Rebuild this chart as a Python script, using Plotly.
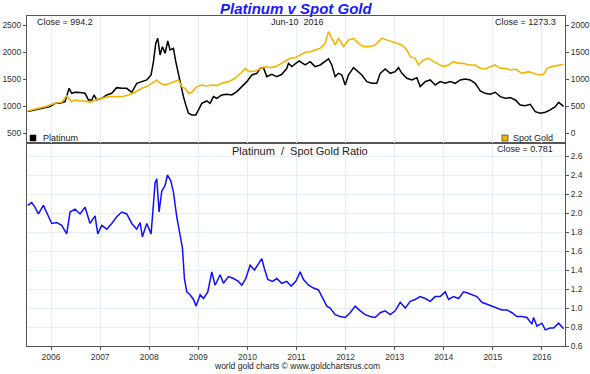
import plotly.graph_objects as go

# ---------------- data ----------------
# time as decimal years
plat_t = [2005.524, 2005.674, 2005.810, 2005.980, 2006.082, 2006.183, 2006.285, 2006.367, 2006.421, 2006.489,
          2006.591, 2006.693, 2006.761, 2006.829, 2006.876, 2006.931, 2007.033, 2007.135, 2007.236, 2007.338,
          2007.440, 2007.542, 2007.644, 2007.746, 2007.848, 2007.950, 2008.038, 2008.086, 2008.133, 2008.174,
          2008.221, 2008.269, 2008.323, 2008.378, 2008.425, 2008.493, 2008.541, 2008.595, 2008.649, 2008.697,
          2008.745, 2008.799, 2008.867, 2008.948, 2009.003, 2009.071, 2009.173, 2009.240, 2009.308, 2009.376,
          2009.478, 2009.580, 2009.682, 2009.784, 2009.886, 2009.988, 2010.090, 2010.192, 2010.260, 2010.327,
          2010.395, 2010.497, 2010.599, 2010.701, 2010.803, 2010.837, 2010.905, 2011.007, 2011.054,
          2011.075, 2011.177, 2011.279, 2011.380, 2011.482, 2011.584, 2011.652, 2011.720, 2011.788, 2011.856,
          2011.924, 2011.992, 2012.060, 2012.162, 2012.264, 2012.332, 2012.433, 2012.535, 2012.637, 2012.705,
          2012.807, 2012.909, 2013.011, 2013.079, 2013.147, 2013.249, 2013.351, 2013.452, 2013.520, 2013.622,
          2013.724, 2013.826, 2013.928, 2014.030, 2014.132, 2014.234, 2014.336, 2014.438, 2014.539, 2014.641,
          2014.743, 2014.845, 2014.947, 2015.049, 2015.151, 2015.253, 2015.355, 2015.457, 2015.558, 2015.660,
          2015.762, 2015.864, 2015.966, 2016.068, 2016.170, 2016.272, 2016.340, 2016.408, 2016.442]
plat_v = [896, 927, 957, 988, 1050, 1050, 1081, 1328, 1235, 1254,
          1248, 1235, 1112, 1112, 1204, 1112, 1143, 1204, 1235, 1340,
          1328, 1328, 1254, 1420, 1451, 1482, 1575, 1821, 2161, 2253,
          1945, 2099, 1976, 2204, 2037, 2068, 1821, 1575, 1359, 1174,
          1019, 865, 834, 834, 927, 1050, 1093, 1050, 1174, 1143,
          1204, 1217, 1204, 1266, 1359, 1451, 1575, 1605, 1698, 1710,
          1544, 1587, 1544, 1587, 1698, 1790, 1729, 1790, 1834,
          1821, 1760, 1821, 1729, 1760, 1821, 1871, 1760, 1544, 1605,
          1575, 1390, 1575, 1710, 1636, 1575, 1451, 1420, 1420, 1605,
          1686, 1605, 1636, 1710, 1605, 1513, 1482, 1525, 1359, 1451,
          1482, 1390, 1451, 1420, 1451, 1420, 1482, 1501, 1482, 1420,
          1278, 1235, 1217, 1254, 1174, 1143, 1155, 1112, 1019, 1007,
          1031, 896, 865, 884, 927, 988, 1068, 1007, 994.2]

gold_t = [2005.524, 2005.674, 2005.878, 2006.082, 2006.217, 2006.319, 2006.421, 2006.489, 2006.591, 2006.693,
          2006.795, 2006.897, 2007.033, 2007.168, 2007.304, 2007.440, 2007.576, 2007.712, 2007.848, 2007.950,
          2008.052, 2008.154, 2008.221, 2008.323, 2008.425, 2008.527, 2008.595, 2008.663, 2008.731, 2008.799,
          2008.867, 2008.969, 2009.071, 2009.173, 2009.274, 2009.376, 2009.478, 2009.614, 2009.750, 2009.886,
          2009.954, 2010.035, 2010.158, 2010.260, 2010.361, 2010.463, 2010.565, 2010.667, 2010.769, 2010.871,
          2010.973,
          2011.075, 2011.177, 2011.279, 2011.380, 2011.482, 2011.584, 2011.652, 2011.720, 2011.788, 2011.856,
          2011.958, 2012.060, 2012.162, 2012.264, 2012.365, 2012.467, 2012.603, 2012.739, 2012.841, 2012.943,
          2013.045, 2013.147, 2013.249, 2013.317, 2013.418, 2013.486, 2013.588, 2013.690, 2013.792, 2013.894,
          2013.996, 2014.098, 2014.200, 2014.302, 2014.404, 2014.505, 2014.641, 2014.743, 2014.845, 2014.947,
          2015.049, 2015.151, 2015.253, 2015.355, 2015.457, 2015.592, 2015.728, 2015.830, 2015.932, 2016.034,
          2016.102, 2016.204, 2016.340, 2016.442]
gold_v = [408, 439, 488, 550, 568, 690, 581, 612, 593, 593,
          568, 612, 642, 673, 673, 673, 704, 754, 828, 859,
          920, 982, 920, 889, 920, 951, 982, 859, 828, 735,
          754, 859, 889, 870, 889, 877, 920, 951, 1013, 1124,
          1198, 1136, 1148, 1185, 1229, 1210, 1229, 1272, 1321, 1383,
          1395,
          1445, 1494, 1506, 1537, 1568, 1661, 1877, 1753, 1630, 1753,
          1599, 1722, 1753, 1661, 1599, 1599, 1630, 1753, 1722, 1692,
          1661, 1630, 1537, 1414, 1383, 1260, 1352, 1383, 1321, 1272,
          1229, 1260, 1321, 1290, 1290, 1260, 1260, 1198, 1185, 1229,
          1260, 1198, 1198, 1167, 1185, 1105, 1136, 1105, 1074, 1087,
          1198, 1229, 1260, 1273.3]

ratio_t = [2005.524, 2005.606, 2005.674, 2005.742, 2005.844, 2005.912, 2006.014, 2006.115, 2006.217, 2006.319,
           2006.387, 2006.489, 2006.591, 2006.693, 2006.795, 2006.897, 2006.951, 2007.033, 2007.135, 2007.236,
           2007.338, 2007.440, 2007.542, 2007.644, 2007.746, 2007.814, 2007.861, 2007.950, 2008.038, 2008.120,
           2008.154, 2008.201, 2008.255, 2008.323, 2008.371, 2008.439, 2008.493, 2008.561, 2008.629, 2008.677,
           2008.717, 2008.765, 2008.833, 2008.901, 2008.955, 2009.037, 2009.105, 2009.193, 2009.274, 2009.342,
           2009.444, 2009.512, 2009.614, 2009.716, 2009.818, 2009.886, 2009.967, 2010.056, 2010.144, 2010.212,
           2010.293, 2010.348, 2010.416, 2010.511, 2010.599, 2010.701, 2010.803, 2010.891, 2010.986,
           2011.075, 2011.143, 2011.245, 2011.346, 2011.448, 2011.516, 2011.618, 2011.686, 2011.788, 2011.890,
           2011.992, 2012.094, 2012.196, 2012.298, 2012.399, 2012.501, 2012.603, 2012.705, 2012.807, 2012.909,
           2013.011, 2013.113, 2013.215, 2013.317, 2013.418, 2013.520, 2013.622, 2013.724, 2013.826, 2013.928,
           2014.030, 2014.098, 2014.200, 2014.302, 2014.404, 2014.471, 2014.573, 2014.675, 2014.777, 2014.879,
           2014.981, 2015.083, 2015.185, 2015.287, 2015.389, 2015.490, 2015.592, 2015.694, 2015.796, 2015.830,
           2015.898, 2016.000, 2016.068, 2016.170, 2016.238, 2016.340, 2016.442]
ratio_v = [2.08, 2.11, 2.06, 1.99, 2.08, 2.01, 1.89, 1.90, 1.87, 1.78,
           2.01, 2.04, 1.99, 2.06, 1.89, 1.97, 1.78, 1.87, 1.83, 1.89,
           1.96, 2.01, 1.99, 1.89, 1.83, 1.90, 1.75, 1.89, 1.78, 2.32,
           2.36, 2.01, 2.23, 2.29, 2.40, 2.34, 2.22, 1.96, 1.77, 1.63,
           1.31, 1.17, 1.14, 1.09, 1.02, 1.14, 1.10, 1.17, 1.38, 1.24,
           1.35, 1.26, 1.33, 1.31, 1.28, 1.24, 1.31, 1.45, 1.40, 1.45,
           1.52, 1.41, 1.30, 1.28, 1.31, 1.26, 1.28, 1.23, 1.28,
           1.38, 1.30, 1.24, 1.21, 1.19, 1.12, 1.02, 1.00, 0.93, 0.91,
           0.90, 0.95, 1.02, 0.97, 0.93, 0.91, 0.90, 0.95, 0.97, 0.93,
           0.97, 1.06, 1.00, 1.07, 1.09, 1.12, 1.10, 1.07, 1.12, 1.12,
           1.17, 1.09, 1.12, 1.10, 1.17, 1.16, 1.14, 1.12, 1.06, 1.04,
           1.02, 1.00, 0.98, 0.98, 0.95, 0.91, 0.91, 0.90, 0.83, 0.90,
           0.81, 0.84, 0.77, 0.79, 0.79, 0.84, 0.781]

year_ticks = [2006, 2007, 2008, 2009, 2010, 2011, 2012, 2013, 2014, 2015, 2016]
year_labels = [str(y) for y in year_ticks]
plat_ticks = [500, 1000, 1500, 2000, 2500]
gold_ticks = [0, 500, 1000, 1500, 2000]
ratio_ticks = [0.6, 0.8, 1.0, 1.2, 1.4, 1.6, 1.8, 2.0, 2.2, 2.4, 2.6]

title_text = "Platinum v Spot Gold"
date_text = "Jun-10  2016"
plat_close = "Close = 994.2"
gold_close = "Close = 1273.3"
ratio_close = "Close = 0.781"
ratio_title = "Platinum  /  Spot Gold Ratio"
footer = "world gold charts \u00a9 www.goldchartsrus.com"

# ---------------- figure ----------------
FONT = "Liberation Sans, Arial, sans-serif"
AX = "#555555"
GRID = "#e3eef9"
PLAT_C = "#000000"
GOLD_C = "#f4b400"
RATIO_C = "#1010ff"

W, H = 590, 374
L, R, T, B = 27, 25, 16, 28
PW, PH = W - L - R, H - T - B
split = (346 - 143) / PH

def px(x):
    return (x - L) / PW

def py(y):
    return (H - B - y) / PH

fig = go.Figure()
fig.add_trace(go.Scatter(x=gold_t, y=gold_v, xaxis="x2", yaxis="y2", mode="lines",
                         line=dict(color=GOLD_C, width=1.6), showlegend=False, hoverinfo="skip"))
fig.add_trace(go.Scatter(x=plat_t, y=plat_v, xaxis="x2", yaxis="y", mode="lines",
                         line=dict(color=PLAT_C, width=1.5), showlegend=False, hoverinfo="skip"))
fig.add_trace(go.Scatter(x=ratio_t, y=ratio_v, xaxis="x", yaxis="y3", mode="lines",
                         line=dict(color=RATIO_C, width=1.5), showlegend=False, hoverinfo="skip"))

xr = [2005.51, 2016.47]
tickfont = dict(family=FONT, size=8.5, color="#333333")

fig.update_layout(
    width=W, height=H,
    margin=dict(l=L, r=R, t=T, b=B, autoexpand=False),
    paper_bgcolor="white", plot_bgcolor="white",
    xaxis=dict(domain=[0, 1], anchor="y3", range=xr, tickmode="array", tickvals=year_ticks,
               ticktext=year_labels, ticks="outside", ticklen=3, tickcolor=AX, tickfont=tickfont,
               showline=True, linecolor=AX, linewidth=1, mirror=True, automargin=False,
               showgrid=True, gridcolor=GRID, gridwidth=1, zeroline=False),
    xaxis2=dict(domain=[0, 1], anchor="y", range=xr, matches="x", tickmode="array", tickvals=year_ticks,
                showticklabels=False, ticks="", showline=True, linecolor=AX, linewidth=1, mirror=True,
                automargin=False, showgrid=True, gridcolor=GRID, gridwidth=1, zeroline=False),
    yaxis=dict(domain=[split, 1], anchor="x2", range=[314.8, 2666.7], tickmode="array",
               tickvals=plat_ticks, ticks="outside", ticklen=3, tickcolor=AX, tickfont=tickfont,
               showline=True, linecolor=AX, linewidth=1, mirror=True, automargin=False,
               showgrid=False, zeroline=False),
    yaxis2=dict(overlaying="y", anchor="x2", side="right", range=[-185.2, 2166.7], tickmode="array",
                tickvals=gold_ticks, ticks="outside", ticklen=3, tickcolor=AX, tickfont=tickfont,
                showline=False, showgrid=False, zeroline=False, automargin=False),
    yaxis3=dict(domain=[0, split], anchor="x", side="right", range=[0.6, 2.737], tickmode="array",
                tickvals=ratio_ticks, ticktext=["%.1f" % v for v in ratio_ticks],
                ticks="outside", ticklen=3, tickcolor=AX, tickfont=tickfont,
                showline=True, linecolor=AX, linewidth=1, mirror=True, automargin=False,
                showgrid=True, gridcolor=GRID, gridwidth=1, zeroline=False),
)

small = dict(family=FONT, size=9, color="#222222")
ann = [
    dict(text="<b><i>%s</i></b>" % title_text, x=px(296), y=py(9), xanchor="center", yanchor="middle",
         font=dict(family=FONT, size=15, color="#1a1aff")),
    dict(text=plat_close, x=px(35), y=py(22), xanchor="left", yanchor="middle", font=small),
    dict(text=date_text, x=px(297), y=py(22), xanchor="center", yanchor="middle", font=small),
    dict(text=gold_close, x=px(558), y=py(22), xanchor="right", yanchor="middle", font=small),
    dict(text="Platinum", x=px(41), y=py(138), xanchor="left", yanchor="middle", font=small),
    dict(text="Spot Gold", x=px(511), y=py(138), xanchor="left", yanchor="middle", font=small),
    dict(text=ratio_title, x=px(300), y=py(151), xanchor="center", yanchor="middle",
         font=dict(family=FONT, size=11, color="#222222")),
    dict(text=ratio_close, x=px(555), y=py(149), xanchor="right", yanchor="middle", font=small),
    dict(text=footer, x=px(297), y=py(366), xanchor="center", yanchor="middle",
         font=dict(family=FONT, size=8.5, color="#222222")),
]
for a in ann:
    a.update(xref="paper", yref="paper", showarrow=False)
fig.update_layout(annotations=ann)

shapes = [
    dict(type="rect", xref="paper", yref="paper", x0=px(30), x1=px(36), y0=py(141), y1=py(135),
         fillcolor=PLAT_C, line=dict(color=PLAT_C, width=0.5)),
    dict(type="rect", xref="paper", yref="paper", x0=px(502), x1=px(508), y0=py(141), y1=py(135),
         fillcolor=GOLD_C, line=dict(color="#333333", width=0.7)),
]
fig.update_layout(shapes=shapes)

fig.write_html("out.html", config={"displayModeBar": False},
               post_script="document.body.style.margin='0';")
